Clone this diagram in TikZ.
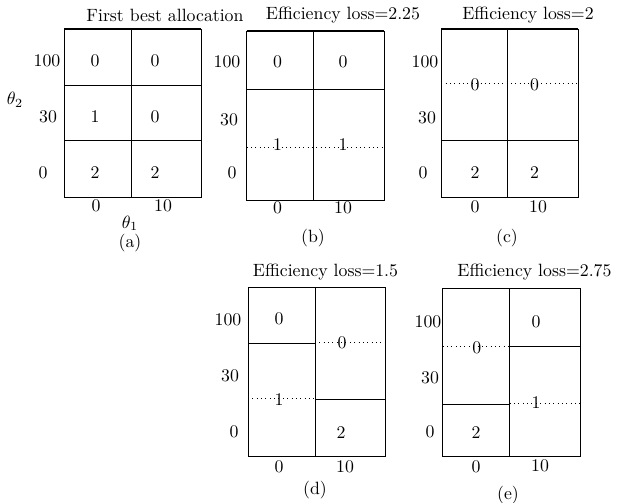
\documentclass[tikz,border=0pt]{standalone}
\begin{document}
\begin{tikzpicture}[x=0.5625pt,y=-0.5625pt,
  cellline/.style={line width=0.45pt},
  boxframe/.style={line width=0.5pt},
  dotline/.style={line width=0.45pt,dotted},
  lbl/.style={inner sep=0pt,anchor=center}]
\useasboundingbox (0,0) rectangle (622,503);

% ---------- (a) first best allocation ----------
\draw[boxframe] (64,197) -- (64,29) -- (201,29) -- (201,197) -- cycle;
\draw[line width=0.8pt] (64,29) -- (201,29);
\draw[cellline] (131.5,29) -- (131.5,197);
\draw[cellline] (64,85) -- (201,85);
\draw[cellline] (64,140.7) -- (201,140.7);
\node[lbl] (ta) at (165,15) {First best allocation};
\node[lbl] (a100) at (47,61) {100};
\node[lbl] (a30) at (48,117) {30};
\node[lbl] (a0) at (43,173) {0};
\node[lbl] (th2) at (15,100) {$\theta_2$};
\node[lbl] (a11) at (95,61) {0};
\node[lbl] (a12) at (155,61) {0};
\node[lbl] (a21) at (95,117) {1};
\node[lbl] (a22) at (155,117) {0};
\node[lbl] (a31) at (95,173) {2};
\node[lbl] (a32) at (155,173) {2};
\node[lbl] (ax0) at (96,206) {0};
\node[lbl] (ax10) at (163,206) {10};
\node[lbl,anchor=base] (th1) at (130,228) {$\theta_1$};
\node[lbl,anchor=base] (capa) at (130,247) {(a)};

% ---------- (b) ----------
\draw[boxframe] (246.7,200) -- (246.7,31) -- (384,31) -- (384,200) -- cycle;
\draw[line width=0.8pt] (246.7,31) -- (384,31);
\draw[cellline] (313.7,31) -- (313.7,200);
\draw[cellline] (246.7,89) -- (384,89);
\draw[dotline] (246.7,147.7) -- (384,147.7);
\node[lbl] (tb) at (343,15) {Efficiency loss=2.25};
\node[lbl] (b100) at (227,62) {100};
\node[lbl] (b30) at (229,120) {30};
\node[lbl] (b0) at (232,173) {0};
\node[lbl] (b11) at (277.5,62) {0};
\node[lbl] (b12) at (343,62) {0};
\node[lbl] (b21) at (277.5,145) {1};
\node[lbl] (b22) at (343,145) {1};
\node[lbl] (bx0) at (277.5,208) {0};
\node[lbl] (bx10) at (343,208) {10};
\node[lbl] (capb) at (313,238) {(b)};

% ---------- (c) ----------
\draw[boxframe] (441.3,197) -- (441.3,29) -- (578.3,29) -- (578.3,197) -- cycle;
\draw[line width=0.8pt] (441.3,29) -- (578.3,29);
\draw[cellline] (507.7,29) -- (507.7,197);
\draw[dotline] (441.3,83.3) -- (578.3,83.3);
\draw[cellline] (441.3,140.7) -- (578.3,140.7);
\node[lbl] (tc) at (528,15) {Efficiency loss=2};
\node[lbl] (c100) at (425,62) {100};
\node[lbl] (c30) at (427,118) {30};
\node[lbl] (c0) at (423,173) {0};
\node[lbl] (c11) at (475,85) {0};
\node[lbl] (c12) at (534.5,85) {0};
\node[lbl] (c31) at (475,173) {2};
\node[lbl] (c32) at (534.5,173) {2};
\node[lbl] (cx0) at (475,207) {0};
\node[lbl] (cx10) at (538,207) {10};
\node[lbl] (capc) at (507,238) {(c)};

% ---------- (d) ----------
\draw[boxframe] (248,456) -- (248,287.3) -- (385.3,287.3) -- (385.3,456) -- cycle;
\draw[cellline] (315,287.3) -- (315,456);
\draw[cellline] (248,343.7) -- (315,343.7);
\draw[dotline] (248,398.3) -- (315,398.3);
\draw[dotline] (315,342) -- (385.3,342);
\draw[cellline] (315,399.3) -- (385.3,399.3);
\node[lbl] (td) at (325.5,272) {Efficiency loss=1.5};
\node[lbl] (d100) at (228,320) {100};
\node[lbl] (d30) at (230,376) {30};
\node[lbl] (d0) at (234,432) {0};
\node[lbl] (d11) at (279,319) {0};
\node[lbl] (d21) at (279,400) {1};
\node[lbl] (d12) at (342,343) {0};
\node[lbl] (d32) at (341,433) {2};
\node[lbl] (dx0) at (279,467) {0};
\node[lbl] (dx10) at (345,467) {10};
\node[lbl] (capd) at (315,490) {(d)};

% ---------- (e) ----------
\draw[boxframe] (442.7,456.7) -- (442.7,288.3) -- (580,288.3) -- (580,456.7) -- cycle;
\draw[cellline] (509.7,288.3) -- (509.7,456.7);
\draw[dotline] (442.7,346.7) -- (509.7,346.7);
\draw[cellline] (442.7,404.3) -- (509.7,404.3);
\draw[cellline] (509.7,346.7) -- (580,346.7);
\draw[dotline] (509.7,403.7) -- (580,403.7);
\node[lbl] (te) at (534.5,272) {Efficiency loss=2.75};
\node[lbl] (e100) at (428,322) {100};
\node[lbl] (e30) at (430,378) {30};
\node[lbl] (e0) at (430,432) {0};
\node[lbl] (e11) at (476.7,348) {0};
\node[lbl] (e31) at (476,433) {2};
\node[lbl] (e12) at (536,322) {0};
\node[lbl] (e22) at (536,403) {1};
\node[lbl] (ex0) at (476,467) {0};
\node[lbl] (ex10) at (540,466) {10};
\node[lbl] (cape) at (508,495) {(e)};
\end{tikzpicture}
\end{document}
